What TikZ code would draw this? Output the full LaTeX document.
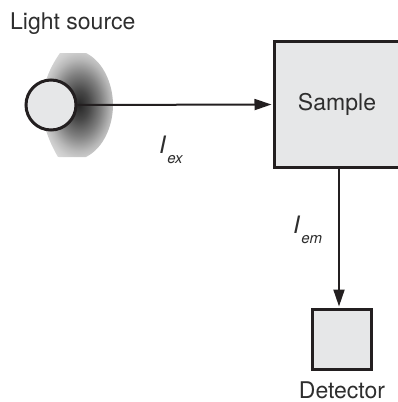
\documentclass[tikz,border=0pt]{standalone}
\usepackage{fontspec}
\setmainfont{TeX Gyre Heros}
\usetikzlibrary{arrows.meta}
\definecolor{fillgray}{HTML}{E6E7E8}
\definecolor{edgec}{HTML}{231F20}
\definecolor{txtc}{HTML}{2E2E2E}
\pgfdeclareradialshading{glow}{\pgfpoint{0bp}{0bp}}{color(0bp)=(black!85); color(6bp)=(black!72); color(13bp)=(black!50); color(19bp)=(black!28); color(22bp)=(black!20); color(25bp)=(black!15)}
\newcommand{\lbl}[2]{{\fontsize{24}{24}\selectfont\itshape #1}\kern1.5pt\raisebox{-10pt}{\fontsize{15}{15}\selectfont\itshape #2}}
\begin{document}
\begin{tikzpicture}[x=1pt,y=-1pt,
  boxst/.style={draw=edgec, line width=3pt, fill=fillgray, inner sep=0pt},
  txtst/.style={text=txtc, font=\fontsize{23}{23}\selectfont, inner sep=0pt},
  arr/.style={draw=edgec, line width=2pt, -{Triangle[length=17pt,width=11pt]}}]
\useasboundingbox (0,0) rectangle (397,402);
% glow
\begin{scope}
\clip (60,53) -- (86,53) .. controls (104,62) and (113,85) .. (113,105)
  .. controls (113,125) and (104,148) .. (86,157) -- (58,157)
  .. controls (48,140) and (42,122) .. (42,105)
  .. controls (42,88) and (48,70) .. (60,53) -- cycle;
\shade[shading=glow] (79,105) ellipse [x radius=42, y radius=60];
\end{scope}
% nodes
\node[boxst, circle, minimum size=50pt] (src) at (51,105) {};
\node[boxst, rectangle, minimum width=129pt, minimum height=126pt] (sample) at (339,104.5) {};
\node[txtst] (sampletext) at (337,104) {Sample};
\node[boxst, rectangle, minimum width=59pt, minimum height=60pt] (det) at (342,339.5) {};
\node[txtst, anchor=base west] (srclabel) at (10,29) {Light source};
\node[txtst, anchor=base] (detlabel) at (342,398) {Detector};
% connectors
\draw[arr, shorten >=1.5pt] (src.east) -- (sample.west);
\draw[arr, shorten >=1.5pt] (339,0 |- sample.south) -- (339,0 |- det.north);
% labels
\node[text=txtc, inner sep=0pt, anchor=base west] (iex) at (159,153) {\lbl{I}{ex}};
\node[text=txtc, inner sep=0pt, anchor=base west] (iem) at (293,233) {\lbl{I}{em}};
\end{tikzpicture}
\end{document}
